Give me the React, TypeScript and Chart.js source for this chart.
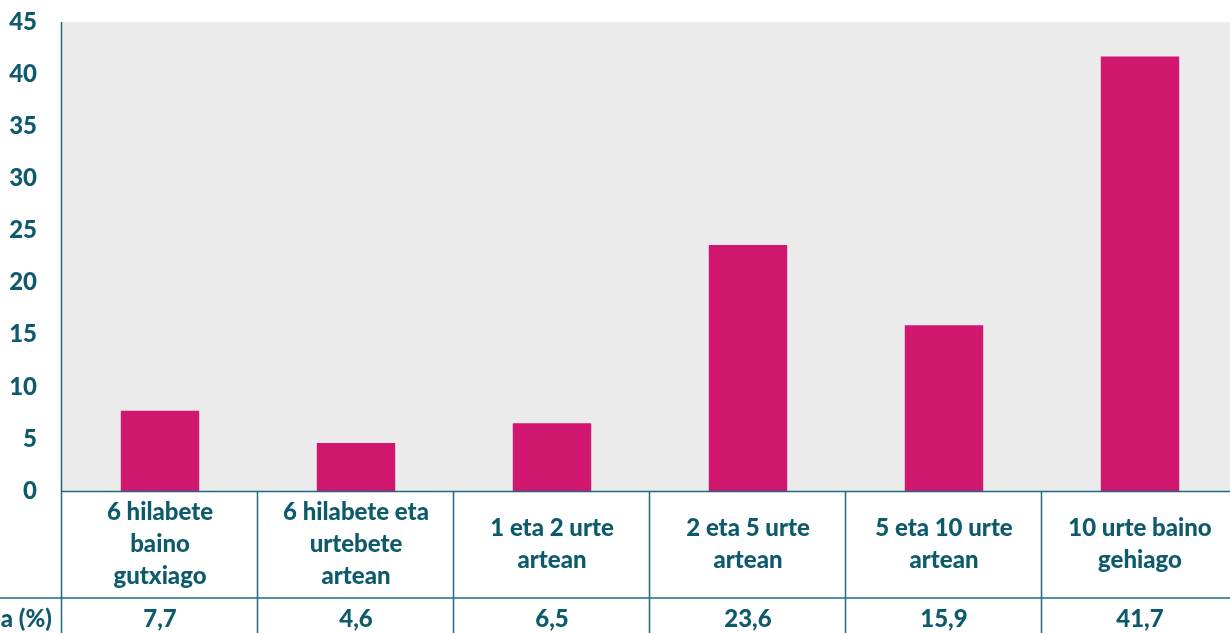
import React, { useEffect, useRef } from "react";
import { Chart, registerables } from "chart.js";

Chart.register(...registerables);

const categories: string[][] = [
  ["6 hilabete", "baino", "gutxiago"],
  ["6 hilabete eta", "urtebete", "artean"],
  ["1 eta 2 urte", "artean"],
  ["2 eta 5 urte", "artean"],
  ["5 eta 10 urte", "artean"],
  ["10 urte baino", "gehiago"],
];
const values: number[] = [7.7, 4.6, 6.5, 23.6, 15.9, 41.7];
const valueLabels: string[] = ["7,7", "4,6", "6,5", "23,6", "15,9", "41,7"];
const rowHeader = "Ehunekoa (%)";
const yMax = 45;
const yStep = 5;

const TEXT = "#0d5a6d";
const LINE = "#1f6b7c";
const BAR = "#d1166f";
const BG = "#ebebeb";
const FAMILY = "Lato, 'Open Sans', sans-serif";
const FONT = `900 24px ${FAMILY}`;

export default function App() {
  const ref = useRef<HTMLCanvasElement | null>(null);

  useEffect(() => {
    const canvas = ref.current;
    if (!canvas) return;

    const tablePlugin = {
      id: "tablePlugin",
      beforeDraw(chart: any) {
        const { ctx, chartArea } = chart;
        ctx.save();
        ctx.fillStyle = BG;
        ctx.fillRect(chartArea.left, chartArea.top, chartArea.right - chartArea.left, chartArea.bottom - chartArea.top);
        ctx.restore();
      },
      afterDraw(chart: any) {
        const { ctx, chartArea } = chart;
        const xs = chart.scales.x;
        const H = chart.height;
        const W = chart.width;
        const n = categories.length;
        const catW = (chartArea.right - chartArea.left) / n;
        const bottom = chartArea.bottom;
        const rowY = bottom + 107;
        ctx.save();
        ctx.strokeStyle = LINE;
        ctx.lineWidth = 1.5;
        ctx.beginPath();
        ctx.moveTo(chartArea.left - 0.5, chartArea.top);
        ctx.lineTo(chartArea.left - 0.5, H);
        ctx.stroke();
        ctx.beginPath();
        ctx.moveTo(chartArea.left, bottom + 0.5);
        ctx.lineTo(W, bottom + 0.5);
        ctx.stroke();
        ctx.beginPath();
        ctx.moveTo(0, rowY);
        ctx.lineTo(W, rowY);
        ctx.stroke();
        for (let i = 1; i <= n; i++) {
          const x = Math.round(xs.getPixelForValue(i - 1) + catW / 2) - 0.5;
          ctx.beginPath();
          ctx.moveTo(x, bottom);
          ctx.lineTo(x, H);
          ctx.stroke();
        }
        ctx.fillStyle = TEXT;
        ctx.font = FONT;
        ctx.textAlign = "center";
        ctx.textBaseline = "middle";
        const lh = 32;
        const cellMid = (bottom + rowY) / 2;
        categories.forEach((lines, i) => {
          const cx = xs.getPixelForValue(i);
          const y0 = cellMid - ((lines.length - 1) * lh) / 2;
          lines.forEach((ln, j) => ctx.fillText(ln, cx, y0 + j * lh));
          ctx.fillText(valueLabels[i], cx, rowY + 21);
        });
        ctx.textAlign = "right";
        ctx.fillText(rowHeader, chartArea.left - 10, rowY + 21);
        ctx.restore();
      },
    };

    const chart = new Chart(canvas, {
      type: "bar",
      data: {
        labels: categories.map((c) => c.join(" ")),
        datasets: [
          {
            data: values,
            backgroundColor: BAR,
            borderWidth: 0,
            barPercentage: 0.4,
            categoryPercentage: 1,
          },
        ],
      },
      options: {
        responsive: false,
        animation: false,
        layout: { padding: { top: 22, bottom: 142, left: 0, right: 0 } },
        plugins: { legend: { display: false }, tooltip: { enabled: false } },
        scales: {
          x: { display: false },
          y: {
            min: 0,
            max: yMax,
            grid: { display: false },
            border: { display: false },
            ticks: {
              stepSize: yStep,
              color: TEXT,
              font: { family: FAMILY, size: 24, weight: "900" },
              padding: 17,
            },
            afterFit(scale: any) {
              scale.width = 62;
              scale.paddingTop = 0;
              scale.paddingBottom = 0;
            },
          },
        },
      },
      plugins: [tablePlugin],
    });
    return () => chart.destroy();
  }, []);

  return (
    <div style={{ position: "fixed", left: 0, top: 0, width: 1230, height: 633, overflow: "hidden", background: "#fff" }}>
      <canvas ref={ref} width={1238} height={633} style={{ display: "block", width: 1238, height: 633 }} />
    </div>
  );
}
